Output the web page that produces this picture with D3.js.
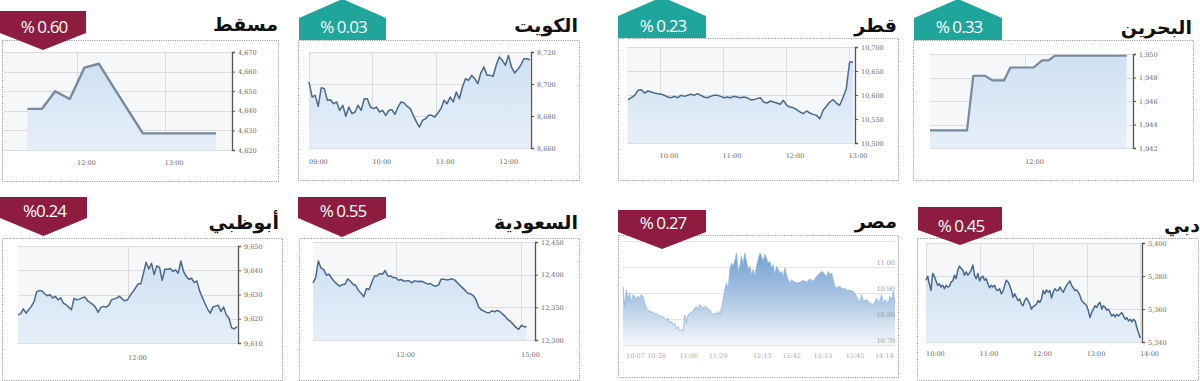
<!DOCTYPE html>
<html>
<head>
<meta charset="utf-8">
<script src="https://cdn.jsdelivr.net/npm/d3@7"></script>
<style>
  body { margin: 0; background: #fff; }
  svg { display: block; }
</style>
</head>
<body>
<svg id="chart" width="1200" height="381"></svg>
<script>
// ---- data ----
const muscatTimes = ["11:26", "11:36", "11:45", "11:55", "12:05", "12:15", "12:25", "12:45", "13:35"];
const muscatValues = [4641, 4641, 4650, 4646, 4662, 4664, 4652, 4628.5, 4628.5];
const muscatXTicks = ["12:00", "13:00"];
const muscatYTicks = [4620, 4630, 4640, 4650, 4660, 4670];

const kuwaitValues = [8701.3, 8691.9, 8692.9, 8686.0, 8697.7, 8697.1, 8689.8, 8690.2, 8687.7, 8688.8,
  8683.5, 8686.7, 8679.8, 8685.6, 8681.5, 8682.5, 8686.7, 8683.5, 8690.8, 8690.8,
  8685.6, 8684.6, 8685.6, 8682.5, 8683.5, 8680.4, 8683.5, 8684.0, 8681.0, 8685.6,
  8688.8, 8688.1, 8686.0, 8684.6, 8680.4, 8676.3, 8673.1, 8677.3, 8678.3, 8680.4,
  8680.4, 8679.4, 8681.9, 8684.6, 8689.8, 8687.7, 8691.9, 8688.8, 8695.0, 8690.8,
  8698.1, 8703.3, 8702.3, 8705.4, 8703.3, 8700.2, 8706.9, 8710.6, 8705.4, 8705.4,
  8704.8, 8711.7, 8716.9, 8714.8, 8711.7, 8717.9, 8710.6, 8706.9, 8709.0, 8711.7,
  8715.8, 8715.8, 8715.2];
const kuwaitXTicks = ["09:00", "10:00", "11:00", "12:00"];
const kuwaitYTicks = [8660, 8680, 8700, 8720];

const qatarValues = [10590.3, 10594.4, 10599.3, 10609.7, 10611.1, 10604.2, 10608.3, 10606.3, 10604.2, 10602.8,
  10601.4, 10599.3, 10595.8, 10594.4, 10597.2, 10594.4, 10599.3, 10597.2, 10599.3, 10601.4,
  10599.3, 10602.8, 10599.3, 10595.8, 10594.4, 10597.2, 10599.3, 10599.3, 10597.2, 10594.4,
  10595.8, 10594.4, 10597.2, 10595.8, 10594.4, 10595.8, 10594.4, 10590.3, 10590.3, 10592.4,
  10594.4, 10585.4, 10583.3, 10587.5, 10585.4, 10583.3, 10580.6, 10588.9, 10578.5, 10575.0,
  10573.6, 10569.4, 10564.6, 10561.1, 10566.7, 10562.5, 10559.7, 10557.6, 10550.7, 10568.1,
  10576.4, 10585.4, 10590.3, 10583.3, 10578.5, 10594.4, 10613.2, 10668.8, 10668.8];
const qatarXTicks = ["10:00", "11:00", "12:00", "13:00"];
const qatarYTicks = [10500, 10550, 10600, 10650, 10700];

const bahrainTimes = ["10:30", "11:05", "11:11", "11:22", "11:29", "11:40", "11:46", "12:08", "12:16", "12:22", "12:28", "13:36"];
const bahrainValues = [1943.5, 1943.5, 1948.15, 1948.15, 1947.75, 1947.75, 1948.85, 1948.85, 1949.45, 1949.45, 1949.85, 1949.85];
const bahrainXTicks = ["12:00"];
const bahrainYTicks = [1942, 1944, 1946, 1948, 1950];

const abuDhabiValues = [9621.6, 9622.1, 9624.1, 9622.3, 9623.7, 9625.1, 9627.1, 9631.2, 9631.6, 9631.4,
  9630.3, 9629.5, 9629.9, 9628.6, 9629.2, 9627.8, 9628.6, 9626.4, 9625.8, 9624.8,
  9623.7, 9628.4, 9627.8, 9628.1, 9628.6, 9629.0, 9627.5, 9626.7, 9625.9, 9624.8,
  9622.6, 9624.7, 9625.1, 9624.8, 9625.5, 9627.8, 9628.2, 9628.5, 9629.3, 9628.2,
  9627.4, 9627.8, 9629.6, 9631.1, 9632.7, 9634.4, 9634.4, 9638.8, 9643.3, 9640.5,
  9642.9, 9638.2, 9641.8, 9641.2, 9635.8, 9640.4, 9640.4, 9640.7, 9639.6, 9640.1,
  9638.8, 9643.8, 9639.5, 9637.5, 9636.3, 9636.7, 9634.9, 9635.6, 9631.6, 9628.9,
  9626.4, 9624.0, 9622.3, 9624.8, 9625.2, 9625.6, 9623.0, 9624.8, 9621.6, 9620.3,
  9616.3, 9615.8, 9616.8];
const abuDhabiXTicks = ["12:00"];
const abuDhabiYTicks = [9610, 9620, 9630, 9640, 9650];

const saudiValues = [12387.5, 12395.6, 12421.0, 12410.3, 12407.8, 12399.2, 12400.7, 12394.6, 12389.5, 12385.4,
  12382.4, 12384.9, 12385.4, 12393.6, 12390.0, 12385.4, 12383.4, 12375.8, 12371.7, 12366.1,
  12378.8, 12377.3, 12388.0, 12398.1, 12398.1, 12401.7, 12400.7, 12406.3, 12398.1, 12398.1,
  12395.6, 12395.1, 12391.5, 12392.6, 12390.0, 12390.5, 12390.5, 12387.5, 12390.5, 12389.5,
  12390.0, 12389.5, 12387.5, 12385.4, 12386.5, 12383.4, 12382.4, 12384.4, 12393.1, 12393.1,
  12392.0, 12392.6, 12393.6, 12392.0, 12388.0, 12383.9, 12379.8, 12375.8, 12371.7, 12370.7,
  12368.1, 12362.0, 12350.4, 12346.3, 12344.3, 12342.2, 12341.7, 12344.8, 12343.2, 12345.3,
  12343.2, 12339.7, 12336.1, 12331.0, 12328.5, 12323.9, 12319.3, 12316.3, 12322.4, 12320.4,
  12320.4];
const saudiXTicks = ["12:00", "15:00"];
const saudiYTicks = [12300, 12350, 12400, 12450];

const egyptValues = [10.925, 10.848, 10.912, 10.874, 10.900, 10.861, 10.893, 10.887, 10.874, 10.889,
  10.880, 10.893, 10.887, 10.861, 10.842, 10.835, 10.829, 10.828, 10.825, 10.822,
  10.820, 10.816, 10.812, 10.811, 10.810, 10.802, 10.794, 10.803, 10.786, 10.790,
  10.777, 10.784, 10.761, 10.771, 10.755, 10.758, 10.752, 10.816, 10.784, 10.816,
  10.822, 10.825, 10.829, 10.842, 10.848, 10.835, 10.855, 10.848, 10.842, 10.848,
  10.846, 10.840, 10.835, 10.825, 10.816, 10.822, 10.820, 10.829, 10.816, 10.842,
  10.874, 10.912, 10.938, 10.912, 10.990, 11.015, 11.003, 11.022, 11.054, 10.983,
  11.003, 11.041, 11.009, 11.054, 11.022, 10.990, 11.003, 10.970, 10.990, 10.964,
  11.003, 11.028, 11.054, 11.041, 11.022, 11.048, 11.035, 11.015, 11.022, 10.996,
  11.009, 10.970, 11.003, 10.990, 10.977, 10.983, 10.961, 10.996, 10.970, 10.951,
  10.938, 10.951, 10.945, 10.941, 10.938, 10.940, 10.941, 10.945, 10.949, 10.945,
  10.941, 10.949, 10.954, 10.949, 10.945, 10.954, 10.964, 10.970, 10.977, 10.983,
  10.979, 10.970, 10.961, 10.983, 10.970, 10.977, 10.951, 10.925, 10.919, 10.923,
  10.925, 10.919, 10.915, 10.918, 10.912, 10.911, 10.910, 10.909, 10.906, 10.897,
  10.887, 10.874, 10.861, 10.893, 10.867, 10.871, 10.874, 10.867, 10.861, 10.858,
  10.855, 10.867, 10.880, 10.861, 10.874, 10.893, 10.855, 10.874, 10.867, 10.861,
  10.887, 10.874, 10.906, 10.861];
const egyptXTicks = ["10:07", "10:28", "11:00", "11:29", "12:13", "12:42", "13:13", "13:45", "14:14"];
const egyptYTicks = [10.70, 10.80, 10.90, 11.00, 11.10];
const egyptYLabels = [10.70, 10.80, 10.90, 11.00];

const dubaiValues = [5377.4, 5379.9, 5375.3, 5371.2,
  5381.5, 5379.9, 5377.0, 5374.3, 5375.3, 5373.3, 5374.3, 5372.3, 5374.3, 5373.3,
  5373.7, 5376.4, 5377.0, 5380.5, 5378.4, 5383.6, 5386.0, 5384.6, 5383.6, 5380.5,
  5382.5, 5380.5, 5381.9, 5383.6, 5386.6, 5380.5, 5378.4, 5381.5, 5377.0, 5379.0,
  5379.9, 5377.4, 5378.4, 5375.3, 5372.9, 5374.3, 5373.3, 5374.3, 5371.6, 5371.2,
  5372.3, 5369.2, 5370.8, 5374.3, 5377.4, 5376.4, 5374.3, 5371.2, 5367.1, 5369.2,
  5367.1, 5365.1, 5366.1, 5363.0, 5362.0, 5365.1, 5366.7, 5365.1, 5363.0, 5359.9,
  5361.4, 5362.0, 5363.0, 5365.1, 5364.0, 5366.1, 5371.2, 5369.2, 5371.6, 5370.2,
  5371.2, 5366.7, 5370.2, 5372.3, 5371.2, 5371.2, 5373.3, 5371.6, 5370.2, 5372.3,
  5374.3, 5375.7, 5377.0, 5374.3, 5372.9, 5371.2, 5371.6, 5370.2, 5368.1, 5365.1,
  5364.0, 5363.0, 5362.0, 5358.9, 5354.8, 5357.9, 5359.9, 5362.0, 5360.9, 5363.0,
  5364.0, 5359.9, 5362.0, 5360.9, 5359.3, 5359.9, 5357.9, 5355.8, 5356.8, 5355.2,
  5356.8, 5355.8, 5356.8, 5357.9, 5355.8, 5353.8, 5354.8, 5352.7, 5353.8, 5352.3,
  5353.8, 5352.7, 5348.6, 5345.5, 5342.4];
const dubaiXTicks = ["10:00", "11:00", "12:00", "13:00", "14:00"];
const dubaiYTicks = [5340, 5360, 5380, 5400];

const TEAL = "#1fa59b";
const CRIMSON = "#8d1c40";

const parseTime = d3.timeParse("%H:%M");

const svg = d3.select("#chart");
const defs = svg.append("defs");

const grad = defs.append("linearGradient").attr("id", "areaFill")
  .attr("x1", 0).attr("y1", 0).attr("x2", 0).attr("y2", 1);
grad.append("stop").attr("offset", "0%").attr("stop-color", "#cfe1f2");
grad.append("stop").attr("offset", "100%").attr("stop-color", "#e6eff9");

const egGrad = defs.append("linearGradient").attr("id", "egyptFill")
  .attr("x1", 0).attr("y1", 0).attr("x2", 0).attr("y2", 1);
egGrad.append("stop").attr("offset", "0%").attr("stop-color", "#739fd0");
egGrad.append("stop").attr("offset", "55%").attr("stop-color", "#b4cbe6");
egGrad.append("stop").attr("offset", "100%").attr("stop-color", "#f4f7fb");

// evenly spaced sample times for the dense intraday series
function spread(n, a, b) {
  const t0 = parseTime(a).getTime(), t1 = parseTime(b).getTime();
  return d3.range(n).map(i => new Date(t0 + (t1 - t0) * i / (n - 1)));
}

function drawPanel(p) {
  const g = svg.append("g");

  // dotted frame
  g.append("rect")
    .attr("x", p.box[0] + 0.5).attr("y", p.box[1] + 0.5)
    .attr("width", p.box[2] - p.box[0]).attr("height", p.box[3] - p.box[1])
    .attr("fill", "none").attr("stroke", "#8c8c8c")
    .attr("stroke-width", 1).attr("stroke-dasharray", "1,1.3");

  const [px0, px1, py0, py1] = p.plot;
  const x = d3.scaleTime().domain(p.domain.map(parseTime)).range([px0, px1]);
  const y = d3.scaleLinear().domain(d3.extent(p.yTicks)).range([py1, py0]);

  const times = p.times ? p.times.map(parseTime) : spread(p.values.length, p.span[0], p.span[1]);
  const data = p.values.map((v, i) => ({ t: times[i], v }));

  if (!p.egypt) {
    g.append("rect").attr("x", px0).attr("y", py0)
      .attr("width", px1 - px0).attr("height", py1 - py0).attr("fill", "#f6f7f8");
  }

  // grid
  g.selectAll(".hg").data(p.yTicks).join("line")
    .attr("x1", px0).attr("x2", px1)
    .attr("y1", d => Math.round(y(d)) + 0.5).attr("y2", d => Math.round(y(d)) + 0.5)
    .attr("stroke", p.egypt ? "#e4e4e4" : "#dcdcdc").attr("stroke-width", 1);
  if (!p.egypt) {
    g.selectAll(".vg").data(p.xTicks).join("line")
      .attr("x1", d => Math.round(x(parseTime(d))) + 0.5).attr("x2", d => Math.round(x(parseTime(d))) + 0.5)
      .attr("y1", py0).attr("y2", py1)
      .attr("stroke", "#dcdcdc").attr("stroke-width", 1);
  }

  const area = d3.area().x(d => x(d.t)).y0(py1).y1(d => y(d.v));
  const line = d3.line().x(d => x(d.t)).y(d => y(d.v));

  g.append("path").datum(data).attr("d", area)
    .attr("fill", p.egypt ? "url(#egyptFill)" : "url(#areaFill)");
  g.append("path").datum(data).attr("d", line)
    .attr("fill", "none")
    .attr("stroke", p.lineColor)
    .attr("stroke-width", p.lineWidth)
    .attr("stroke-linejoin", "round");

  // y axis
  if (p.egypt) {
    g.selectAll(".yl").data(egyptYLabels).join("text")
      .attr("x", px1).attr("y", d => y(d) - 2)
      .attr("text-anchor", "end")
      .attr("font-family", "'DejaVu Serif', serif").attr("font-size", 6.5)
      .attr("fill", "#9a9a9a")
      .text(d => d3.format(".2f")(d));
  } else {
    const ax = g.append("g")
      .attr("transform", `translate(${p.axisX},0)`)
      .call(d3.axisRight(y).tickValues(p.yTicks).tickSize(3).tickPadding(3).tickFormat(d3.format(",")));
    ax.select(".domain").attr("stroke", "#555").attr("stroke-width", 1.3);
    ax.selectAll(".tick line").attr("stroke", "#555");
    ax.selectAll("text")
      .attr("font-family", "'DejaVu Serif', serif").attr("font-size", 6.5).attr("fill", "#666");
  }

  // x labels
  g.selectAll(".xl").data(p.xTicks).join("text")
    .attr("x", d => x(parseTime(d)) + (p.egypt ? -4 : 0))
    .attr("y", p.labelY)
    .attr("font-family", "'DejaVu Serif', serif").attr("font-size", 6.5)
    .attr("fill", p.egypt ? "#aaa" : "#666")
    .text(d => d);

  // title
  g.append("text")
    .attr("x", p.titleX).attr("y", p.titleY)
    .attr("text-anchor", "end")
    .attr("font-family", "'DejaVu Sans', sans-serif")
    .attr("font-weight", "bold").attr("font-size", 19)
    .attr("fill", "#111")
    .text(p.title);

  // change badge
  const b = p.badge;
  const mid = (b.x0 + b.x1) / 2;
  let pts;
  if (b.up) {
    pts = [[b.x0, b.bottom], [b.x0, b.shoulder], [mid, b.tip], [b.x1, b.shoulder], [b.x1, b.bottom]];
  } else {
    pts = [[b.x0, b.top], [b.x1, b.top], [b.x1, b.side], [mid, b.tip], [b.x0, b.side]];
  }
  g.append("path").attr("d", d3.line()(pts) + "Z").attr("fill", b.up ? TEAL : CRIMSON);
  g.append("text")
    .attr("x", mid + 1).attr("y", b.textY)
    .attr("text-anchor", "middle")
    .attr("font-family", "'Open Sans', sans-serif").attr("font-size", 17)
    .attr("letter-spacing", -0.9)
    .attr("fill", "#fff")
    .text(p.change);
}

const dark = "#4a6888";
const grey = "#76899d";

const panels = [
  { title: "مسقط", change: "% 0.60", box: [2, 40, 278, 181], plot: [4, 232, 52, 150], axisX: 232,
    domain: ["11:10", "13:46"], times: muscatTimes, values: muscatValues,
    xTicks: muscatXTicks, yTicks: muscatYTicks, labelY: 165, titleX: 278, titleY: 31,
    lineColor: grey, lineWidth: 2.4,
    badge: { up: false, x0: 0, x1: 86, top: 11, side: 33, tip: 50, textY: 33 } },
  { title: "الكويت", change: "% 0.03", box: [298, 40, 579, 180], plot: [309, 531, 52, 148], axisX: 531,
    domain: ["09:00", "12:30"], span: ["09:00", "12:29"], values: kuwaitValues,
    xTicks: kuwaitXTicks, yTicks: kuwaitYTicks, labelY: 164, titleX: 578, titleY: 32,
    lineColor: dark, lineWidth: 1.5,
    badge: { up: true, x0: 299, x1: 386, tip: -1, shoulder: 18, bottom: 40, textY: 33 } },
  { title: "قطر", change: "% 0.23", box: [618, 38, 898, 180], plot: [627, 855, 47, 143], axisX: 855,
    domain: ["09:29", "13:06"], span: ["09:30", "13:04"], values: qatarValues,
    xTicks: qatarXTicks, yTicks: qatarYTicks, labelY: 158, titleX: 897, titleY: 32,
    lineColor: dark, lineWidth: 1.5,
    badge: { up: true, x0: 618, x1: 706, tip: -3, shoulder: 16, bottom: 38, textY: 32 } },
  { title: "البحرين", change: "% 0.33", box: [913, 40, 1193, 180], plot: [930, 1133, 54, 148], axisX: 1133,
    domain: ["10:30", "13:42"], times: bahrainTimes, values: bahrainValues,
    xTicks: bahrainXTicks, yTicks: bahrainYTicks, labelY: 164, titleX: 1192, titleY: 34,
    lineColor: grey, lineWidth: 2.2,
    badge: { up: true, x0: 914, x1: 1002, tip: -1, shoulder: 18, bottom: 40, textY: 33 } },
  { title: "أبوظبي", change: "%0.24", box: [2, 238, 282, 380], plot: [18, 238, 246, 343], axisX: 238,
    domain: ["10:16", "13:44"], span: ["10:16", "13:43"], values: abuDhabiValues,
    xTicks: abuDhabiXTicks, yTicks: abuDhabiYTicks, labelY: 360, titleX: 279, titleY: 229,
    lineColor: dark, lineWidth: 1.5,
    badge: { up: false, x0: 0, x1: 87, top: 197, side: 218, tip: 236, textY: 217 } },
  { title: "السعودية", change: "% 0.55", box: [299, 238, 579, 380], plot: [313, 535, 242, 340], axisX: 535,
    domain: ["10:00", "15:20"], span: ["10:00", "15:08"], values: saudiValues,
    xTicks: saudiXTicks, yTicks: saudiYTicks, labelY: 357, titleX: 578, titleY: 229,
    lineColor: dark, lineWidth: 1.5,
    badge: { up: false, x0: 298, x1: 386, top: 197, side: 218, tip: 237, textY: 217 } },
  { title: "مصر", change: "% 0.27", box: [618, 235, 898, 377], plot: [623, 895, 241, 345], egypt: true,
    domain: ["10:00", "14:30"], span: ["10:00", "14:30"], values: egyptValues,
    xTicks: egyptXTicks, yTicks: egyptYTicks, labelY: 358, titleX: 897, titleY: 228,
    lineColor: "#8fb6df", lineWidth: 0.8,
    badge: { up: false, x0: 618, x1: 706, top: 210, side: 232, tip: 249, textY: 229 } },
  { title: "دبي", change: "% 0.45", box: [917, 238, 1198, 380], plot: [926, 1142, 243, 342], axisX: 1142,
    domain: ["10:00", "14:02"], span: ["10:00", "14:00"], values: dubaiValues,
    xTicks: dubaiXTicks, yTicks: dubaiYTicks, labelY: 356, titleX: 1200, titleY: 232,
    lineColor: dark, lineWidth: 1.5,
    badge: { up: false, x0: 918, x1: 1002, top: 207, side: 230, tip: 245, textY: 232 } }
];

panels.forEach(drawPanel);
</script>
</body>
</html>
